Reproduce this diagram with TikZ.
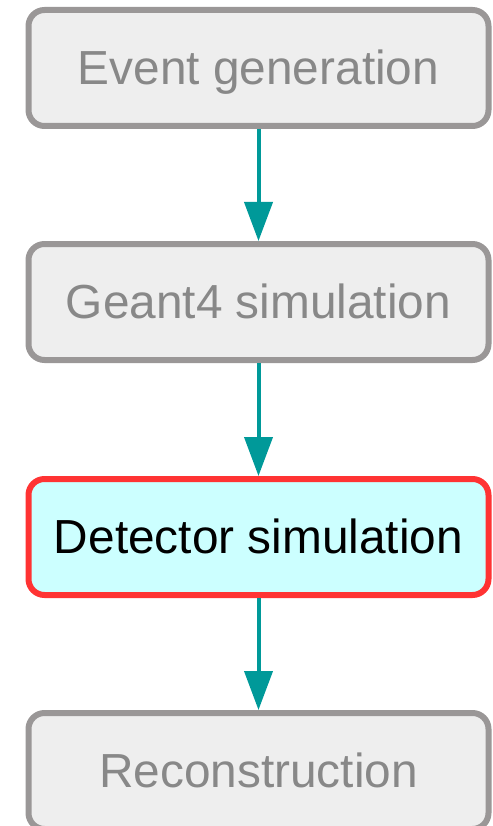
\documentclass[tikz,border=0pt]{standalone}
\usepackage{fontspec}
\setmainfont{Liberation Sans}
\usetikzlibrary{arrows.meta}
\definecolor{boxgray}{HTML}{9A9797}
\definecolor{fillgray}{HTML}{EEEEEE}
\definecolor{textgray}{HTML}{888888}
\definecolor{teal}{HTML}{009999}
\definecolor{hired}{HTML}{FF3333}
\definecolor{hicyan}{HTML}{CCFFFF}
\begin{document}
\begin{tikzpicture}[x=1pt,y=1pt,
  stage/.style={draw=boxgray, fill=fillgray, line width=6pt, rounded corners=16pt,
    minimum width=460pt, minimum height=116pt, inner sep=0pt,
    text height=33pt, text depth=0pt,
    text=textgray, font=\fontsize{47.8}{52}\selectfont},
  current/.style={stage, draw=hired, fill=hicyan, text=black},
  flow/.style={draw=teal, line width=4pt, -{Triangle[width=28pt 0, length=39pt 0]}}]
\useasboundingbox (0,0) rectangle (492,-826);
\node[stage] (ev) at (258.5,-68) {Event generation};
\node[stage] (g4) at (258.5,-302) {Geant4 simulation};
\node[current] (det) at (258.5,-537) {Detector simulation};
\node[stage] (reco) at (258.5,-771) {Reconstruction};
\draw[flow] (ev.south) -- (g4.north);
\draw[flow] (g4.south) -- (det.north);
\draw[flow] (det.south) -- (reco.north);
\end{tikzpicture}
\end{document}
